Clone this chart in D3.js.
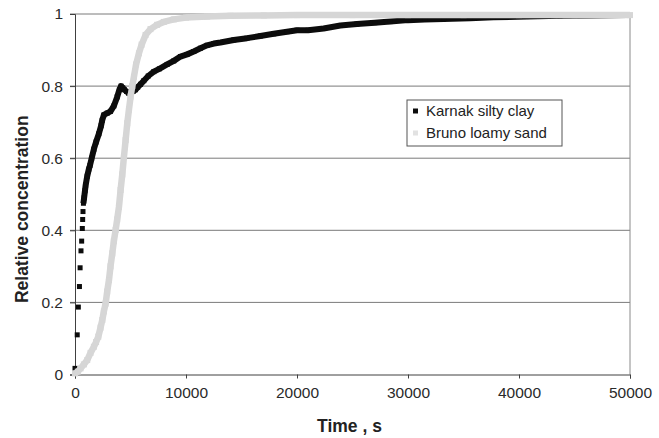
<!DOCTYPE html>
<html>
<head>
<meta charset="utf-8">
<script src="https://cdn.jsdelivr.net/npm/d3@7"></script>
<style>
  body { margin: 0; background: #fff; }
  svg text { font-family: "Liberation Sans", Arial, sans-serif; }
</style>
</head>
<body>
<div id="chart"></div>
<script>
// Karnak silty clay (time s, relative concentration)
const karnakTime = [0, 200, 300, 400, 460, 540, 600, 660, 690, 720, 760,
  820, 900, 960, 1100, 1250, 1350, 1500, 1700, 1900, 2150, 2350, 2450, 2600, 2900, 3200, 3500, 3800, 4000, 4150, 4300,
  4450, 4650, 4850, 5050, 5250, 5450, 5650, 5900, 6200, 6600, 7100, 7600, 8300, 8900, 9500, 10100, 10700, 11300, 11900,
  12500, 13100, 14300, 15500, 16700, 17900, 19100, 20000, 21000, 22400, 23900, 25400, 27000, 28400, 30000, 31500,
  33200, 35600, 37700, 40700, 43700, 46500, 49700];
const karnakConc = [0.017, 0.11, 0.187, 0.244, 0.296, 0.343, 0.37, 0.405, 0.43, 0.452, 0.475,
  0.49, 0.51, 0.525, 0.55, 0.57, 0.58, 0.6, 0.625, 0.645, 0.668, 0.69, 0.705, 0.72, 0.725, 0.73, 0.745, 0.77, 0.79, 0.80, 0.795,
  0.79, 0.785, 0.78, 0.782, 0.786, 0.79, 0.797, 0.805, 0.815, 0.828, 0.84, 0.848, 0.86, 0.87, 0.882, 0.888, 0.896, 0.905, 0.913,
  0.918, 0.921, 0.928, 0.933, 0.939, 0.945, 0.951, 0.955, 0.955, 0.96, 0.968, 0.972, 0.976, 0.979, 0.983, 0.985,
  0.986, 0.988, 0.991, 0.993, 0.995, 0.996, 0.997];

// Bruno loamy sand
const brunoTime = [0, 250, 500, 800, 1100, 1400, 1700, 1900, 2100, 2300, 2460, 2600, 2760, 2900, 3060, 3200, 3360, 3500,
  3660, 3800, 3960, 4110, 4260, 4410, 4560, 4710, 4860, 5010, 5160, 5310, 5500, 5760, 6000, 6360, 6800, 7400, 8000,
  8900, 10000, 11900, 14000, 17000, 20000, 25000, 30000, 35000, 40000, 45000, 50000];
const brunoConc = [0.003, 0.008, 0.017, 0.028, 0.04, 0.06, 0.077, 0.09, 0.105, 0.13, 0.151, 0.175, 0.197, 0.23, 0.262, 0.3, 0.336, 0.37,
  0.401, 0.43, 0.465, 0.512, 0.555, 0.604, 0.65, 0.697, 0.735, 0.771, 0.8, 0.826, 0.86, 0.891, 0.915, 0.942, 0.958, 0.97, 0.978,
  0.985, 0.99, 0.993, 0.995, 0.996, 0.997, 0.997, 0.997, 0.997, 0.997, 0.997, 0.997];

const xTicks = [0, 10000, 20000, 30000, 40000, 50000];
const yTicks = [0, 0.2, 0.4, 0.6, 0.8, 1];
const seriesNames = ["Karnak silty clay", "Bruno loamy sand"];

const W = 659, H = 438;
const margin = {top: 14, right: 29, bottom: 63.5, left: 75};
const w = W - margin.left - margin.right;
const h = H - margin.top - margin.bottom;
const black = "#0c0c0c", light = "#d6d6d6";
// first few Karnak samples are spaced apart, the rest merge into a band
const sparseCount = 11;

const svg = d3.select("#chart").append("svg")
  .attr("width", W).attr("height", H);
const g = svg.append("g").attr("transform", `translate(${margin.left}, ${margin.top})`);

const xScale = d3.scaleLinear().domain([0, 50000]).range([0, w]);
const yScale = d3.scaleLinear().domain([0, 1]).range([h, 0]);

// gridlines
g.selectAll(".grid").data(yTicks.slice(1)).enter()
  .append("line")
  .attr("x1", -5).attr("x2", w)
  .attr("y1", d => yScale(d)).attr("y2", d => yScale(d))
  .attr("stroke", "#7a7a7a").attr("stroke-width", 1);
// right frame
g.append("line").attr("x1", w).attr("x2", w).attr("y1", 0).attr("y2", h)
  .attr("stroke", "#8a8a8a");

// axes
const xAxis = g.append("g").attr("transform", `translate(0, ${h})`)
  .call(d3.axisBottom(xScale).tickValues(xTicks).tickSize(4).tickPadding(8).tickFormat(d3.format("d")));
const yAxis = g.append("g")
  .call(d3.axisLeft(yScale).tickValues(yTicks).tickSize(5).tickPadding(7).tickFormat(d => d3.format("")(d)));
[xAxis, yAxis].forEach(a => {
  a.select(".domain").attr("stroke", "#404040");
  a.selectAll(".tick line").attr("stroke", "#404040");
  a.selectAll("text").attr("font-size", 15.5).attr("fill", "#2a2a2a")
    .style("font-family", "'Liberation Sans', Arial, sans-serif");
});

// Karnak band
const karnak = karnakTime.map((t, i) => [t, karnakConc[i]]);
const bruno = brunoTime.map((t, i) => [t, brunoConc[i]]);
const line = d3.line().x(d => xScale(d[0])).y(d => yScale(d[1]));

g.append("path").datum(karnak.slice(sparseCount - 1))
  .attr("fill", "none").attr("stroke", black).attr("stroke-width", 6)
  .attr("stroke-linejoin", "round").attr("d", line);
g.selectAll(".karnak").data(karnak).enter().append("rect")
  .attr("x", d => xScale(d[0]) - 2.5).attr("y", d => yScale(d[1]) - 2.5)
  .attr("width", 5).attr("height", 5).attr("fill", black);

// Bruno band
g.append("path").datum(bruno)
  .attr("fill", "none").attr("stroke", light).attr("stroke-width", 6.5)
  .attr("stroke-linejoin", "round").attr("d", line);
g.selectAll(".bruno").data(bruno).enter().append("rect")
  .attr("x", d => xScale(d[0]) - 3).attr("y", d => yScale(d[1]) - 3)
  .attr("width", 6).attr("height", 6).attr("fill", light);

// axis titles
svg.append("text")
  .attr("x", margin.left + xScale(25000) - 3).attr("y", 432)
  .attr("text-anchor", "middle").attr("font-size", 17.5).attr("font-weight", "bold")
  .attr("fill", "#222").text("Time , s");
svg.append("text")
  .attr("transform", `translate(28, ${margin.top + h / 2 + 15}) rotate(-90)`)
  .attr("text-anchor", "middle").attr("font-size", 17.5).attr("font-weight", "bold")
  .attr("fill", "#222").text("Relative concentration");

// legend
const legend = svg.append("g").attr("transform", "translate(407, 100)");
legend.append("rect").attr("width", 155).attr("height", 46)
  .attr("fill", "#fff").attr("stroke", "#555").attr("stroke-width", 1);
const colors = [black, "#e2e2e2"];
seriesNames.forEach((name, i) => {
  legend.append("rect").attr("x", 6).attr("y", 11 + i * 22 - 2.5)
    .attr("width", 5).attr("height", 5).attr("fill", colors[i]);
  legend.append("text").attr("x", 19).attr("y", 16 + i * 22)
    .attr("font-size", 15).attr("fill", "#222").text(name);
});
</script>
</body>
</html>
